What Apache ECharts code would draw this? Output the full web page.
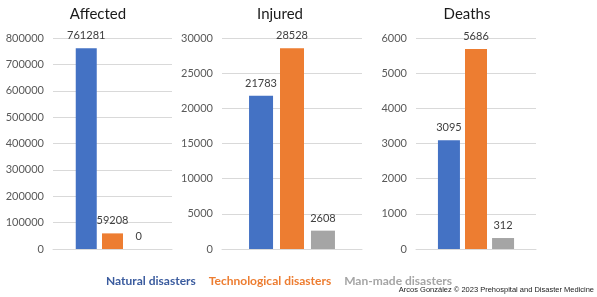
<!DOCTYPE html>
<html>
<head>
<meta charset="utf-8">
<script src="https://cdn.jsdelivr.net/npm/echarts@6/dist/echarts.min.js"></script>
<style>
  html, body { margin: 0; padding: 0; background: #fff; }
  #chart { width: 597px; height: 297px; }
</style>
</head>
<body>
<div id="chart"></div>
<script>
// data
const seriesNames = ['Natural disasters', 'Technological disasters', 'Man-made disasters'];
const panelTitles = ['Affected', 'Injured', 'Deaths'];
const affected = [761281, 59208, 0];
const injured = [21783, 28528, 2608];
const deaths = [3095, 5686, 312];
const yMax = [800000, 30000, 6000];
const yStep = [100000, 5000, 1000];

const barColors = ['#4472C4', '#ED7D31', '#A5A5A5'];
const legendColors = ['#3A5B9E', '#ED7D31', '#A5A5A5'];
const font = 'Lato';

const chart = echarts.init(document.getElementById('chart'), null, { renderer: 'canvas' });

// panel layout: grid left / width, title center, bar width, gap
const panels = [
    { left: 53, width: 119, title: 93, bar: 21, gap: '25%', values: affected },
    { left: 222, width: 140, title: 275, bar: 24, gap: '29%', values: injured },
    { left: 416, width: 120, title: 462, bar: 22, gap: '23%', values: deaths }
];

let grids = [], xAxes = [], yAxes = [], titles = [], series = [];
panels.forEach((p, i) => {
    grids.push({ left: p.left, width: p.width, top: 38, bottom: 48, containLabel: false });
    titles.push({
        text: panelTitles[i], left: p.title, top: 2, textAlign: 'center',
        textStyle: { fontFamily: font, fontSize: 15, fontWeight: 'normal', color: '#1a1a1a' }
    });
    xAxes.push({
        type: 'category', gridIndex: i, data: [''],
        axisLine: { show: true, lineStyle: { color: '#D9D9D9' } },
        axisTick: { show: false }, axisLabel: { show: false }
    });
    yAxes.push({
        type: 'value', gridIndex: i, min: 0, max: yMax[i], interval: yStep[i],
        axisLine: { show: false }, axisTick: { show: false },
        axisLabel: {
            fontFamily: font, fontSize: 11, color: '#595959', margin: 9,
            formatter: v => String(v)
        },
        splitLine: { lineStyle: { color: '#D9D9D9' } }
    });
    seriesNames.forEach((name, k) => {
        series.push({
            type: 'bar', name: name, xAxisIndex: i, yAxisIndex: i,
            data: [p.values[k]],
            barWidth: p.bar, barGap: p.gap,
            itemStyle: { color: barColors[k] },
            label: {
                show: true, position: 'top', distance: 7,
                fontFamily: font, fontSize: 11, color: '#404040'
            }
        });
    });
});

chart.setOption({
    backgroundColor: '#ffffff',
    animation: false,
    title: titles,
    grid: grids,
    xAxis: xAxes,
    yAxis: yAxes,
    legend: {
        left: 96, top: 269, icon: 'none', itemWidth: 0, itemGap: 8,
        selectedMode: false,
        textStyle: { fontFamily: font, fontSize: 12, fontWeight: 'bold' },
        data: seriesNames.map((n, k) => ({ name: n, textStyle: { color: legendColors[k] } }))
    },
    graphic: [{
        type: 'text', right: 3, top: 286,
        style: {
            text: 'Arcos González © 2023 Prehospital and Disaster Medicine',
            font: '7.5px "Liberation Sans"', fill: '#222'
        }
    }],
    series: series
});
</script>
</body>
</html>
